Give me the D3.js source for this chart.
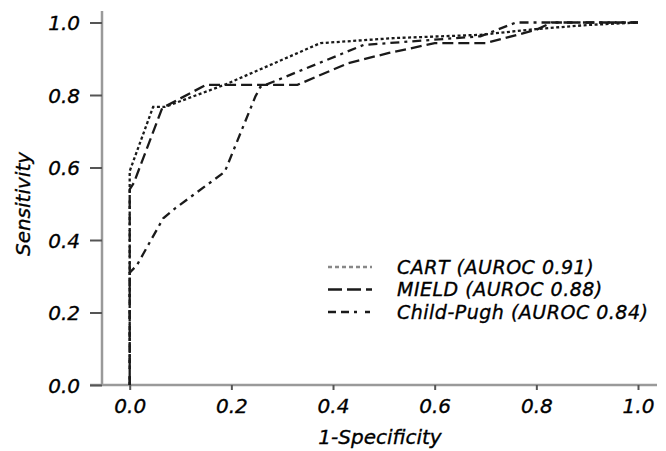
<!DOCTYPE html>
<html>
<head>
<meta charset="utf-8">
<script src="https://cdn.jsdelivr.net/npm/d3@7"></script>
<style>
  body { margin: 0; background: #fff; }
  svg text { font-family: "DejaVu Sans", sans-serif; font-style: italic; fill: #000; stroke: #000; stroke-width: 0.35px; }
</style>
</head>
<body>
<svg id="chart" width="666" height="451"></svg>
<script>
// ROC points: [1-specificity, sensitivity]
const cart = [[0, 0], [0, 0.54], [0.0, 0.59], [0.046, 0.767], [0.069, 0.767], [0.19, 0.83], [0.375, 0.943], [0.52, 0.957], [0.69, 0.966], [0.8, 0.982], [0.9, 0.993], [1, 1]];
const mield = [[0, 0], [0, 0.54], [0.008, 0.557], [0.064, 0.764], [0.15, 0.828], [0.33, 0.828], [0.43, 0.888], [0.51, 0.916], [0.6, 0.943], [0.7, 0.943], [0.8, 0.98], [0.83, 1], [1, 1]];
const childPugh = [[0, 0], [0, 0.31], [0.014, 0.33], [0.066, 0.46], [0.09, 0.488], [0.187, 0.588], [0.247, 0.795], [0.257, 0.822], [0.46, 0.938], [0.69, 0.962], [0.76, 1], [1, 1]];

const seriesNames = ["CART (AUROC 0.91)", "MIELD (AUROC 0.88)", "Child-Pugh (AUROC 0.84)"];
const ticks = [0, 0.2, 0.4, 0.6, 0.8, 1.0];

const svg = d3.select("#chart");

const x = d3.scaleLinear().domain([0, 1]).range([129.7, 638]);
const y = d3.scaleLinear().domain([0, 1]).range([385, 22.5]);

// axes lines
svg.append("line").attr("x1", 102).attr("x2", 102).attr("y1", 11).attr("y2", 386)
    .attr("stroke", "#9a9a9a").attr("stroke-width", 2.5);
svg.append("line").attr("x1", 90).attr("x2", 657).attr("y1", 385).attr("y2", 385)
    .attr("stroke", "#9a9a9a").attr("stroke-width", 2.5);

// y axis
const yAxis = svg.append("g").attr("transform", "translate(102,0)")
    .call(d3.axisLeft(y).tickValues(ticks).tickFormat(d3.format(".1f")).tickSize(12).tickPadding(10));
yAxis.select(".domain").remove();
yAxis.selectAll(".tick line").attr("stroke", "#555").attr("stroke-width", 2);
yAxis.selectAll(".tick text").style("font-size", "20px").attr("dy", "0.36em");

// x axis
const xAxis = svg.append("g").attr("transform", "translate(0,385)")
    .call(d3.axisBottom(x).tickValues(ticks).tickFormat(d3.format(".1f")).tickSize(5).tickPadding(8));
xAxis.select(".domain").remove();
xAxis.selectAll(".tick line").attr("stroke", "#555").attr("stroke-width", 2);
xAxis.selectAll(".tick text").style("font-size", "20px").attr("dy", "0.75em");

// axis titles
svg.append("text").attr("x", 380).attr("y", 444).attr("text-anchor", "middle")
    .style("font-size", "20px").text("1-Specificity");
svg.append("text").attr("transform", "translate(30,204) rotate(-90)").attr("text-anchor", "middle")
    .style("font-size", "20px").text("Sensitivity");

// curves
const line = d3.line().x(d => x(d[0])).y(d => y(d[1]));
const dashes = ["3,2.5", "11,5", "9,5,3,5"];
const data = [cart, mield, childPugh];

svg.append("g").selectAll("path")
    .data(data)
    .enter().append("path")
    .attr("d", line)
    .attr("fill", "none")
    .attr("stroke", "#1a1a1a")
    .attr("stroke-width", 2.3)
    .attr("stroke-dasharray", (d, i) => dashes[i]);

// legend
const legendDashes = ["4,3", "14,5", "8,5,8,5,3"];
const legend = svg.append("g").selectAll("g")
    .data(seriesNames)
    .enter().append("g")
    .attr("transform", (d, i) => "translate(328," + (267 + i * 22.5) + ")");

legend.append("line")
    .attr("x1", 0).attr("x2", 44).attr("y1", 0).attr("y2", 0)
    .attr("stroke", (d, i) => i == 0 ? "#888" : "#1a1a1a")
    .attr("stroke-width", 2.3)
    .attr("stroke-dasharray", (d, i) => legendDashes[i]);

legend.append("text")
    .attr("x", 69).attr("y", 0).attr("dy", "0.36em")
    .style("font-size", "19px")
    .style("letter-spacing", "0.5px")
    .text(d => d);
</script>
</body>
</html>
